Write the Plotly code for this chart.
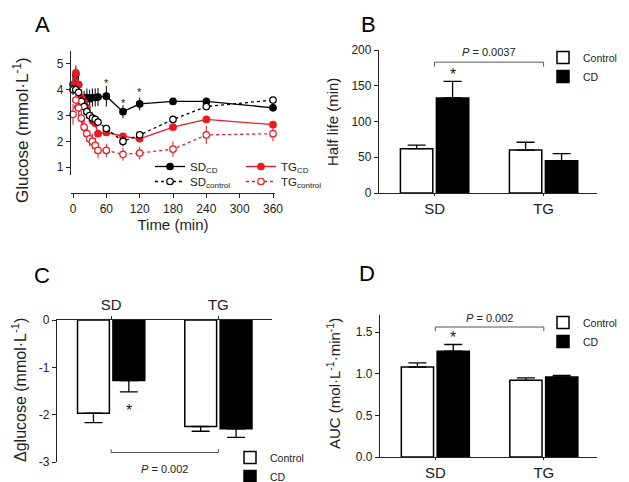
import plotly.graph_objects as go

# the page puts the figure 8 px from its top-left corner, so the figure is 8 px smaller
W, H = 629, 482
OFF = 8
FW, FH = W - OFF, H - OFF
FONT = "Arial, Liberation Sans, sans-serif"
RED = "rgb(232,28,36)"
INK = "#222222"

# ---- panel A : glucose time course ----
time_min = [0, 5, 10, 15, 20, 25, 30, 35, 40, 45, 60, 90, 120, 180, 240, 360]
sd_cd = [4.2, 4.6, 4.2, 3.65, 3.6, 3.7, 3.65, 3.7, 3.7, 3.72, 3.75, 3.15, 3.45, 3.55, 3.55, 3.3]
sd_cd_err = [0.3, 0.3, 0.3, 0.35, 0.35, 0.35, 0.35, 0.35, 0.35, 0.35, 0.4, 0.25, 0.25, 0.12, 0.12, 0.08]
sd_ctrl = [4.0, 4.0, 3.9, 3.55, 3.35, 3.15, 3.0, 2.9, 2.85, 2.75, 2.5, 2.0, 2.25, 2.85, 3.35, 3.6]
sd_ctrl_err = [0.2, 0.2, 0.2, 0.2, 0.2, 0.2, 0.2, 0.15, 0.15, 0.15, 0.15, 0.2, 0.15, 0.12, 0.12, 0.08]
tg_cd = [4.2, 4.65, 4.2, 3.7, 3.5, 3.3, 3.0, 2.8, 2.7, 2.3, 2.35, 2.2, 2.1, 2.55, 2.85, 2.65]
tg_cd_err = [0.3, 0.3, 0.2, 0.15, 0.15, 0.15, 0.15, 0.15, 0.15, 0.12, 0.1, 0.1, 0.1, 0.1, 0.1, 0.08]
tg_ctrl = [3.05, 3.6, 3.3, 2.9, 2.55, 2.3, 2.1, 2.0, 1.85, 1.65, 1.65, 1.5, 1.55, 1.7, 2.25, 2.3]
tg_ctrl_err = [0.4, 0.3, 0.3, 0.3, 0.3, 0.3, 0.3, 0.3, 0.3, 0.3, 0.25, 0.25, 0.25, 0.3, 0.35, 0.3]
star_times = [60, 90, 120]
star_levels = [4.25, 3.5, 3.9]

# ---- panels B, C, D : group bars ----
groups = ["SD", "TG"]
half_life_ctrl = [62, 60]
half_life_ctrl_err = [5, 11]
half_life_cd = [133, 45]
half_life_cd_err = [23, 10]

dglu_ctrl = [-1.97, -2.25]
dglu_ctrl_err = [0.2, 0.1]
dglu_cd = [-1.28, -2.3]
dglu_cd_err = [0.24, 0.18]

auc_ctrl = [1.08, 0.92]
auc_ctrl_err = [0.05, 0.03]
auc_cd = [1.27, 0.96]
auc_cd_err = [0.08, 0.02]


def px(x):
    return (x - OFF) / FW


def py(y):
    return 1 - (y - OFF) / FH


fig = go.Figure()

# panel A lines
series_a = [
    ("SD<sub>CD</sub>", sd_cd, sd_cd_err, "black", "solid", "black", "legend"),
    ("TG<sub>CD</sub>", tg_cd, tg_cd_err, RED, "solid", RED, "legend"),
    ("SD<sub>control</sub>", sd_ctrl, sd_ctrl_err, "black", "dot", "white", "legend5"),
    ("TG<sub>control</sub>", tg_ctrl, tg_ctrl_err, RED, "dot", "white", "legend5"),
]
for name, vals, errs, col, dash, fill, leg in series_a:
    fig.add_trace(go.Scatter(
        x=time_min, y=vals, name=name, mode="lines+markers",
        line=dict(color=col, width=1.3, dash=dash),
        marker=dict(size=6.5, color=fill, line=dict(color=col, width=1.2)),
        error_y=dict(type="data", array=errs, color=col, thickness=1, width=0),
        xaxis="x", yaxis="y", legend=leg, cliponaxis=False,
    ))

# bar panels
bar_panels = [
    ("x2", "y2", half_life_ctrl, half_life_ctrl_err, half_life_cd, half_life_cd_err, "legend2", False),
    ("x3", "y3", dglu_ctrl, dglu_ctrl_err, dglu_cd, dglu_cd_err, "legend3", True),
    ("x4", "y4", auc_ctrl, auc_ctrl_err, auc_cd, auc_cd_err, "legend4", False),
]
for xa, ya, c_vals, c_err, d_vals, d_err, leg, neg in bar_panels:
    for name, vals, errs, fill in [("Control", c_vals, c_err, "white"), ("CD", d_vals, d_err, "black")]:
        if neg:
            err = dict(type="data", symmetric=False, array=[0] * len(errs), arrayminus=errs,
                       color="black", thickness=1.3, width=9)
        else:
            err = dict(type="data", symmetric=False, array=errs, arrayminus=[0] * len(errs),
                       color="black", thickness=1.3, width=9)
        fig.add_trace(go.Bar(
            x=groups, y=vals, name=name, xaxis=xa, yaxis=ya, legend=leg,
            marker=dict(color=fill, line=dict(color="black", width=1.5)),
            error_y=err,
        ))

axis_common = dict(showgrid=False, zeroline=False, showline=True, linecolor=INK, linewidth=1.3,
                   ticks="outside", ticklen=4, tickcolor=INK, tickwidth=1.3,
                   tickfont=dict(size=12, color=INK))
cat_font = dict(size=15, color=INK)

fig.update_layout(
    width=FW, height=FH, margin=dict(l=0, r=0, t=0, b=0, autoexpand=False),
    paper_bgcolor="white", plot_bgcolor="white",
    font=dict(family=FONT, color=INK),
    barmode="group", bargap=0.34, bargroupgap=0.1,
    # A
    xaxis=dict(axis_common, domain=[px(71), px(275)], range=[-3.6, 363.6],
               tickvals=[0, 60, 120, 180, 240, 300, 360], anchor="free", position=py(193),
               title=dict(text="Time (min)", font=dict(size=15), standoff=2)),
    yaxis=dict(axis_common, domain=[py(175), py(51)], range=[0.7, 5.5], tickvals=[1, 2, 3, 4, 5],
               anchor="x"),
    # B
    xaxis2=dict(axis_common, domain=[px(379), px(597)], range=[-0.51, 1.49], anchor="y2",
                ticklen=2, tickfont=cat_font),
    yaxis2=dict(axis_common, domain=[py(193), py(50)], range=[0, 200], tickvals=[0, 50, 100, 150, 200],
                anchor="x2"),
    # C
    xaxis3=dict(axis_common, domain=[px(57), px(272)], range=[-0.505, 1.5], anchor="y3", side="top",
                ticklen=3, tickfont=cat_font),
    yaxis3=dict(axis_common, domain=[py(462), py(320)], range=[-3, 0], tickvals=[0, -1, -2, -3],
                ticktext=["0", "-1", "-2", "-3"], anchor="x3"),
    # D
    xaxis4=dict(axis_common, domain=[px(380), px(597)], range=[-0.51, 1.49], anchor="y4",
                ticklen=2, tickfont=cat_font),
    yaxis4=dict(axis_common, domain=[py(457), py(315)], range=[0, 1.704], tickvals=[0, 0.5, 1.0, 1.5],
                tickformat=".1f", anchor="x4"),
)

leg_common = dict(bgcolor="rgba(0,0,0,0)", font=dict(size=10.5, color=INK), itemclick=False,
                  xanchor="left", yanchor="top", tracegroupgap=0)
leg_a = dict(leg_common, font=dict(size=11.5, color=INK), orientation="h", entrywidth=46)
fig.update_layout(
    legend=dict(leg_a, x=px(150), y=py(152)),
    legend5=dict(leg_a, x=px(150), y=py(167)),
    legend2=dict(leg_common, x=px(543), y=py(43)),
    legend3=dict(leg_common, x=px(230), y=py(443)),
    legend4=dict(leg_common, x=px(543), y=py(308)),
)

# panel letters
for letter, lx, ly in [("A", 42, 24), ("B", 368, 24), ("C", 42, 275), ("D", 367, 273)]:
    fig.add_annotation(text=letter, x=px(lx), y=py(ly), xref="paper", yref="paper",
                       xanchor="center", yanchor="middle",
                       showarrow=False, font=dict(size=22, color="black"))

# y axis titles
y_titles = [
    ("Glucose (mmol·L<sup>-1</sup>)", 21, 130, 17),
    ("Half life (min)", 333, 122, 15),
    ("Δglucose (mmol·L<sup>-1</sup>)", 19, 390, 16),
    ("AUC (mol·L<sup>-1</sup>·min<sup>-1</sup>)", 333, 384, 15),
]
for txt, tx, ty, fs in y_titles:
    fig.add_annotation(text=txt, x=px(tx), y=py(ty), xref="paper", yref="paper", textangle=-90,
                       xanchor="center", yanchor="middle",
                       showarrow=False, font=dict(size=fs, color=INK))

# stars panel A
for t, lv in zip(star_times, star_levels):
    fig.add_annotation(text="*", x=t, y=lv, xref="x", yref="y", showarrow=False,
                       font=dict(size=11, color=INK))

# significance brackets
brackets = [
    ("x2", "y2", 183, -6, py(52), "<i>P</i> = 0.0037", 0.165, 166),
    ("x4", "y4", 1.56, -0.05, py(318), "<i>P</i> = 0.002", 0.165, 1.43),
    ("x3", "y3", -2.8, 0.07, py(469), "<i>P</i> = 0.002", 0.165, -1.92),
]
for xa, ya, yb, tick, ytxt, label, xs, ys in brackets:
    for x0, y0, x1, y1 in [(0, yb, 1, yb), (0, yb, 0, yb + tick), (1, yb, 1, yb + tick)]:
        fig.add_shape(type="line", x0=x0, y0=y0, x1=x1, y1=y1, xref=xa, yref=ya,
                      line=dict(color="#555555", width=1))
    fig.add_annotation(text=label, x=0.5, y=ytxt, xref=xa, yref="paper", showarrow=False,
                       xanchor="center", yanchor="middle", font=dict(size=11, color=INK))
    fig.add_annotation(text="*", x=xs, y=ys, xref=xa, yref=ya, showarrow=False,
                       font=dict(size=16, color=INK))

fig.write_html("out.html")
